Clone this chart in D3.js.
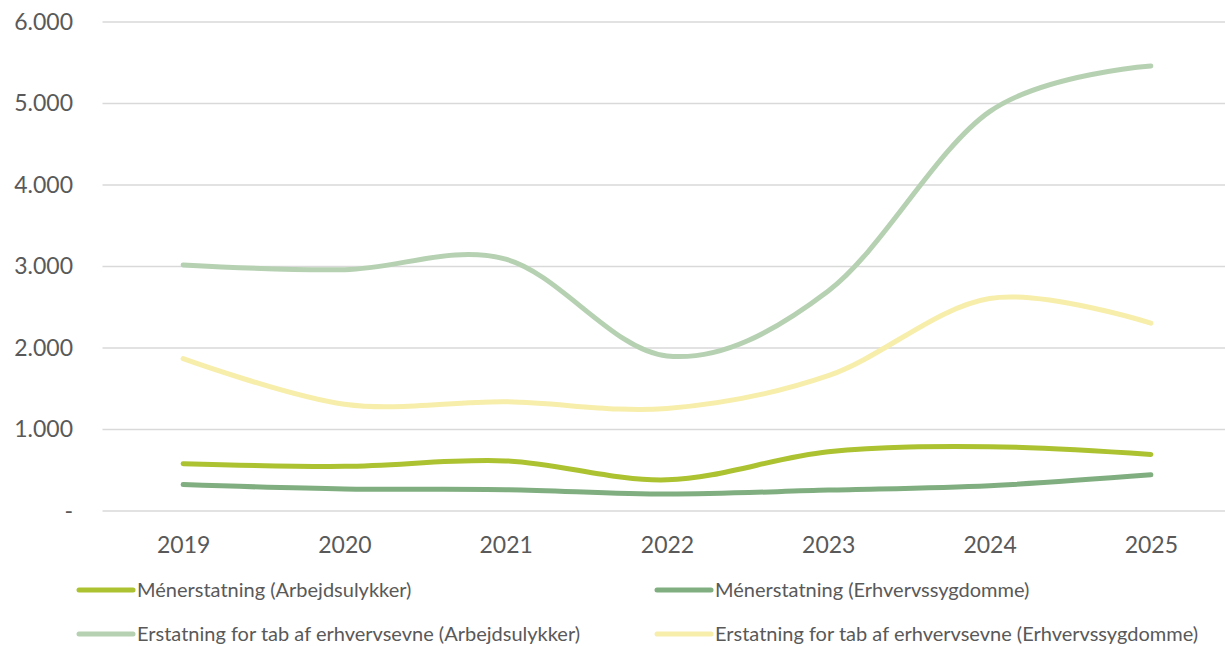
<!DOCTYPE html>
<html>
<head>
<meta charset="utf-8">
<script src="https://cdn.jsdelivr.net/npm/d3@7"></script>
<style>
  html, body { margin: 0; padding: 0; background: #fff; }
  #chart { width: 1225px; height: 646px; }
</style>
</head>
<body>
<div id="chart"></div>
<script>
// ── Data ───────────────────────────────────────────────────────
const years = ["2019", "2020", "2021", "2022", "2023", "2024", "2025"];

const menArbejd   = [581, 548, 615, 382, 727, 789, 694];
const menErhverv  = [324, 270, 262, 208, 257, 311, 444];
const tabArbejd   = [3019, 2961, 3090, 1902, 2700, 4900, 5461];
const tabErhverv  = [1869, 1310, 1340, 1258, 1661, 2608, 2305];

const seriesNames = [
  "Ménerstatning (Arbejdsulykker)",
  "Ménerstatning (Erhvervssygdomme)",
  "Erstatning for tab af erhvervsevne (Arbejdsulykker)",
  "Erstatning for tab af erhvervsevne (Erhvervssygdomme)"
];

const yTicks = [0, 1000, 2000, 3000, 4000, 5000, 6000];

const colors = {
  menArbejd:  "#adc230",
  menErhverv: "#80ae80",
  tabArbejd:  "#b6d1b2",
  tabErhverv: "#f7eeab",
  grid:       "#d9d9d9",
  text:       "#595959",
};

const series = [
  { name: seriesNames[0], values: menArbejd,  color: colors.menArbejd },
  { name: seriesNames[1], values: menErhverv, color: colors.menErhverv },
  { name: seriesNames[2], values: tabArbejd,  color: colors.tabArbejd },
  { name: seriesNames[3], values: tabErhverv, color: colors.tabErhverv },
];

// ── Layout ─────────────────────────────────────────────────────
const totalW = 1225, totalH = 646;
const margin = { top: 22, left: 102.5 };
const plotW  = 1129;   // runs past the right edge like the original
const plotH  = 489;

const svg = d3.select("#chart")
  .append("svg")
  .attr("width", totalW)
  .attr("height", totalH)
  .style("font-family", "Lato, 'Open Sans', sans-serif");

const g = svg.append("g")
  .attr("transform", `translate(${margin.left},${margin.top})`);

const x = d3.scalePoint()
  .domain(years)
  .range([0, plotW])
  .padding(0.5);

const y = d3.scaleLinear()
  .domain([0, 6000])
  .range([plotH, 0]);

const locale = d3.formatLocale({ decimal: ",", thousands: ".", grouping: [3], currency: ["", ""] });
const fmt = locale.format(",d");

// ── Gridlines ──────────────────────────────────────────────────
g.selectAll(".grid")
  .data(yTicks).enter().append("line")
  .attr("class", "grid")
  .attr("x1", 0).attr("x2", plotW)
  .attr("y1", d => y(d)).attr("y2", d => y(d))
  .attr("stroke", colors.grid)
  .attr("stroke-width", 1.3);

// ── Axes ───────────────────────────────────────────────────────
g.append("g")
  .call(d3.axisLeft(y).tickValues(yTicks).tickSize(0).tickPadding(29.5)
    .tickFormat(d => d === 0 ? "-" : fmt(d)))
  .call(a => a.select(".domain").remove())
  .call(a => a.selectAll("text")
    .style("font-size", "23px")
    .style("font-family", "Lato, sans-serif")
    .attr("fill", colors.text));

g.append("g")
  .attr("transform", `translate(0,${plotH})`)
  .call(d3.axisBottom(x).tickSize(0).tickPadding(26))
  .call(a => a.select(".domain").remove())
  .call(a => a.selectAll("text")
    .style("font-size", "23px")
    .style("font-family", "Lato, sans-serif")
    .attr("fill", colors.text));

// ── Lines ──────────────────────────────────────────────────────
const line = d3.line()
  .x((d, i) => x(years[i]))
  .y(d => y(d))
  .curve(d3.curveCardinal.tension(0));

g.selectAll(".series")
  .data(series).enter().append("path")
  .attr("class", "series")
  .attr("fill", "none")
  .attr("stroke", d => d.color)
  .attr("stroke-width", 5)
  .attr("stroke-linecap", "round")
  .attr("stroke-linejoin", "round")
  .attr("d", d => line(d.values));

// ── Legend ─────────────────────────────────────────────────────
const legendPos = [
  { x: 79,  y: 590 },
  { x: 657, y: 590 },
  { x: 79,  y: 634 },
  { x: 657, y: 634 },
];

const legend = svg.selectAll(".legend")
  .data(series).enter().append("g")
  .attr("class", "legend")
  .attr("transform", (d, i) => `translate(${legendPos[i].x},${legendPos[i].y})`);

legend.append("line")
  .attr("x1", 0).attr("x2", 54)
  .attr("y1", 0).attr("y2", 0)
  .attr("stroke", d => d.color)
  .attr("stroke-width", 5)
  .attr("stroke-linecap", "round");

legend.append("text")
  .attr("x", 58)
  .attr("y", 0)
  .attr("dy", "0.35em")
  .style("font-size", "20px")
  .attr("fill", colors.text)
  .text(d => d.name);
</script>
</body>
</html>
